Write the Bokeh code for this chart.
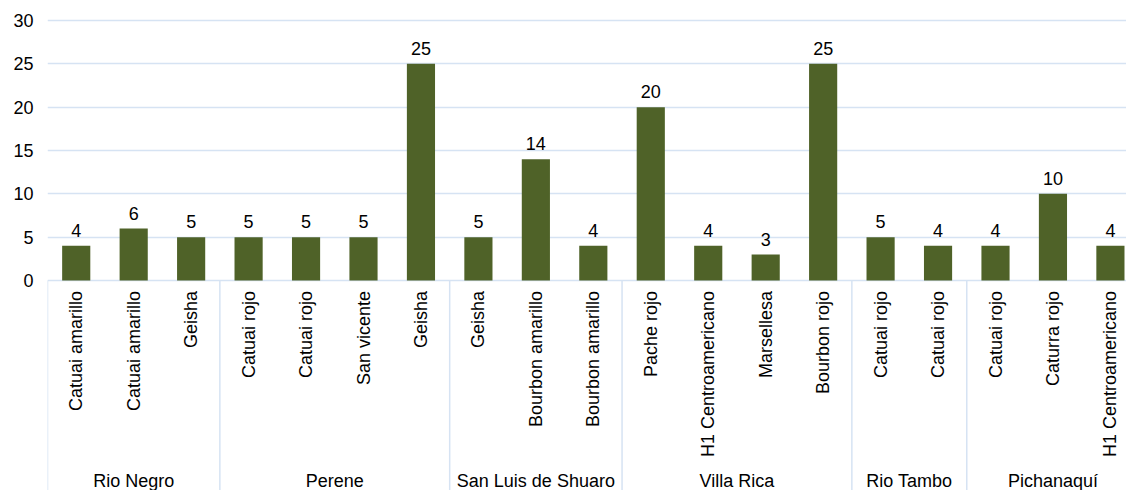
from bokeh.plotting import figure
from bokeh.models import ColumnDataSource, FixedTicker, Range1d
from bokeh.core.properties import value
from bokeh.embed import file_html
from bokeh.resources import INLINE
import numpy as np

groups = ["Rio Negro", "Perene", "San Luis de Shuaro", "Villa Rica", "Rio Tambo", "Pichanaquí"]
group_sizes = [3, 4, 3, 4, 2, 3]
varieties = ["Catuai amarillo", "Catuai amarillo", "Geisha",
             "Catuai rojo", "Catuai rojo", "San vicente", "Geisha",
             "Geisha", "Bourbon amarillo", "Bourbon amarillo",
             "Pache rojo", "H1 Centroamericano", "Marsellesa", "Bourbon rojo",
             "Catuai rojo", "Catuai rojo",
             "Catuai rojo", "Caturra rojo", "H1 Centroamericano"]
values = [4, 6, 5, 5, 5, 5, 25, 5, 14, 4, 20, 4, 3, 25, 5, 4, 4, 10, 4]
y_ticks = [0, 5, 10, 15, 20, 25, 30]

FONT = "Liberation Sans"
BAR = "#4F6228"
GRID = "#D6E3F3"

xs = list(range(len(values)))
src = ColumnDataSource(dict(x=xs, top=values, lab=[str(v) for v in values], var=varieties))

p = figure(width=1126, height=490, output_backend="svg", toolbar_location=None,
           x_range=Range1d(-0.5, 18.28), y_range=Range1d(-24.23, 32.31),
           min_border_left=47, min_border_right=0, min_border_top=0, min_border_bottom=0,
           x_axis_location=None)
p.outline_line_color = None
p.xgrid.grid_line_color = None
p.ygrid.ticker = FixedTicker(ticks=y_ticks)
p.ygrid.grid_line_color = GRID
p.ygrid.grid_line_width = 1.5

ax = p.yaxis[0]
ax.ticker = FixedTicker(ticks=y_ticks)
ax.axis_line_color = None
ax.major_tick_line_color = None
ax.minor_tick_line_color = None
ax.major_tick_out = 0
ax.major_tick_in = 0
ax.major_label_standoff = 14
ax.major_label_text_font = FONT
ax.major_label_text_font_size = "18px"
ax.major_label_text_color = "#000000"

p.vbar(x="x", top="top", bottom=0, width=0.49, source=src, fill_color=BAR, line_color=None)

p.text(x="x", y="top", text="lab", source=src, text_font=value(FONT), text_font_size="18px",
       text_align="center", text_baseline="bottom", y_offset=-9, text_color="#000000")

p.text(x="x", y=-1.2, text="var", source=src, angle=np.pi / 2, text_font=value(FONT),
       text_font_size="18px", text_align="right", text_baseline="middle", text_color="#000000")

# group separators and labels
bounds = [-0.5]
centers = []
start = 0
for n in group_sizes:
    centers.append(start + (n - 1) / 2)
    start += n
    bounds.append(start - 0.5)
p.segment(x0=bounds, y0=[0] * len(bounds), x1=bounds, y1=[-24.23] * len(bounds),
          line_color=GRID, line_width=1.5)
p.text(x=centers, y=[-21.95] * len(centers), text=groups, text_font=value(FONT),
       text_font_size="18px", text_align="center", text_baseline="top", text_color="#000000")

open("out.html", "w").write(file_html(p, INLINE))
